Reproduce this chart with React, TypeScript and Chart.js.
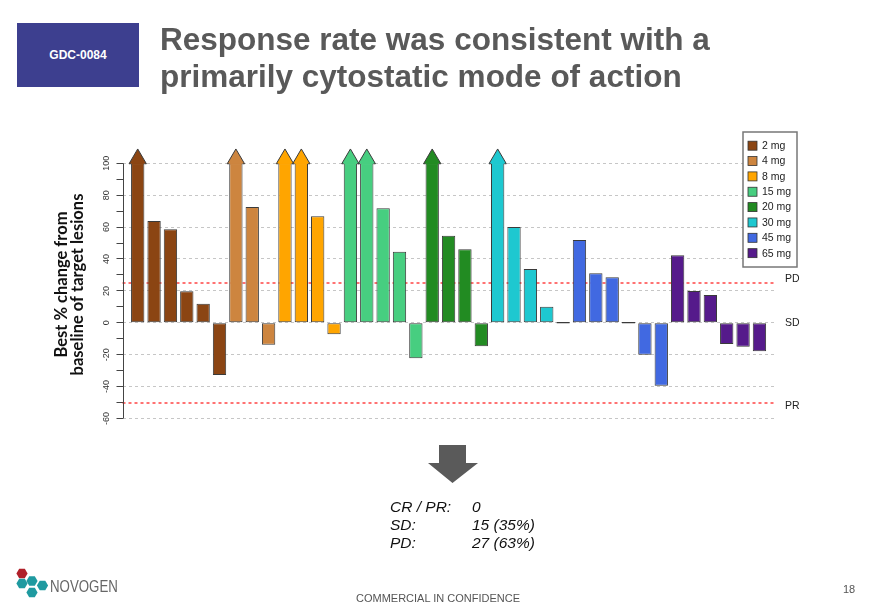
import React, { useEffect, useRef } from 'react';
import { Chart, registerables } from 'chart.js';

Chart.register(...registerables);

// ---------- data ----------
const doseLabels = ['2 mg', '4 mg', '8 mg', '15 mg', '20 mg', '30 mg', '45 mg', '65 mg'];
const doseColors = ['#8B4513', '#CD853F', '#FFA500', '#47CE80', '#228B22', '#1EC8D0', '#4169E1', '#551A8B'];

// dose group (index into doseLabels) of each patient, in plotted order
const patientDose = [
  0, 0, 0, 0, 0, 0,
  1, 1, 1,
  2, 2, 2, 2,
  3, 3, 3, 3, 3,
  4, 4, 4, 4,
  5, 5, 5, 5, 5,
  6, 6, 6, 6, 6, 6,
  7, 7, 7, 7, 7, 7,
];

// best % change from baseline (capped at 100 where the bar carries an arrow)
const bestChange = [
  100, 63.8, 58.6, 19.7, 12, -32.7,
  100, 72.6, -13.7,
  100, 100, 66.8, -7.2,
  100, 100, 71.8, 44.6, -22.3,
  100, 54.6, 46.1, -14.7,
  100, 60, 33.7, 10.1, 0,
  51.9, 31, 28.5, 0, -20, -39.4,
  42.3, 19.9, 17.4, -13.3, -15, -17.9,
];

// true where the change exceeds 100% (drawn as an arrow)
const beyond100 = [
  true, false, false, false, false, false,
  true, false, false,
  true, true, false, false,
  true, true, false, false, false,
  true, false, false, false,
  true, false, false, false, false,
  false, false, false, false, false, false,
  false, false, false, false, false, false,
];

const thresholdValues = [25, -50];
const zoneLabels = ['PD', 'SD', 'PR'];
const zoneLabelValues = [27.5, 0, -52];
const yAxisTitle = ['Best % change from', 'baseline of target lesions'];
const yRange = { min: -62, max: 110, axisMin: -60, axisMax: 100, labelStep: 20, tickStep: 10 };

const statLabels = ['CR / PR:', 'SD:', 'PD:'];
const statValues = ['0', '15 (35%)', '27 (63%)'];

const FONT = "'Liberation Sans', Arial, Helvetica, sans-serif";

const extrasPlugin = {
  id: 'waterfallExtras',
  beforeDatasetsDraw(chart: any) {
    const { ctx, chartArea, scales } = chart;
    const y = scales.y;
    ctx.save();
    ctx.globalAlpha = 1;
    ctx.strokeStyle = 'rgb(255, 0, 0)';
    ctx.lineWidth = 1.1;
    ctx.setLineDash([3, 3]);
    thresholdValues.forEach((v) => {
      const py = Math.round(y.getPixelForValue(v));
      ctx.beginPath();
      ctx.moveTo(chartArea.left, py);
      ctx.lineTo(chartArea.right, py);
      ctx.stroke();
    });
    ctx.restore();
  },
  afterDatasetsDraw(chart: any) {
    const { ctx, chartArea, scales } = chart;
    const y = scales.y;
    const meta = chart.getDatasetMeta(0);

    // arrow heads for > 100%
    ctx.save();
    ctx.strokeStyle = '#3a3a3a';
    ctx.lineWidth = 1;
    ctx.lineJoin = 'miter';
    meta.data.forEach((bar: any, i: number) => {
      if (!beyond100[i]) return;
      const p = bar.getProps(['x', 'y', 'width'], true);
      const l = p.x - p.width / 2;
      const r = p.x + p.width / 2;
      const head = 14.3;
      const wing = 2;
      ctx.fillStyle = doseColors[patientDose[i]];
      ctx.fillRect(l + 1, p.y - 1, p.width - 2, 2.6);
      ctx.beginPath();
      ctx.moveTo(l, p.y + 0.5);
      ctx.lineTo(l - wing, p.y + 0.5);
      ctx.lineTo(p.x, p.y - head);
      ctx.lineTo(r + wing, p.y + 0.5);
      ctx.lineTo(r, p.y + 0.5);
      ctx.fill();
      ctx.stroke();
    });
    ctx.restore();

    // y axis line (from -60 to 100 only)
    ctx.save();
    ctx.strokeStyle = '#444';
    ctx.lineWidth = 1;
    const ax = Math.round(chartArea.left) + 0.5;
    ctx.beginPath();
    ctx.moveTo(ax, y.getPixelForValue(yRange.axisMin));
    ctx.lineTo(ax, y.getPixelForValue(yRange.axisMax));
    ctx.stroke();
    ctx.restore();

    // zone labels
    ctx.save();
    ctx.font = `10.5px ${FONT}`;
    ctx.fillStyle = '#222';
    ctx.textAlign = 'left';
    ctx.textBaseline = 'middle';
    zoneLabels.forEach((t, i) => {
      ctx.fillText(t, chartArea.right + 11, y.getPixelForValue(zoneLabelValues[i]));
    });
    ctx.restore();

    // legend box
    ctx.save();
    const bx = chartArea.right - 31;
    const by = chartArea.top - 15.3;
    const bw = 54;
    const bh = 135;
    ctx.fillStyle = '#fff';
    ctx.fillRect(bx, by, bw, bh);
    ctx.strokeStyle = '#777';
    ctx.lineWidth = 1.5;
    ctx.strokeRect(bx, by, bw, bh);
    ctx.font = `10.5px ${FONT}`;
    ctx.textAlign = 'left';
    ctx.textBaseline = 'middle';
    doseLabels.forEach((lab, i) => {
      const cy = by + 13.7 + i * 15.35;
      ctx.fillStyle = doseColors[i];
      ctx.fillRect(bx + 5, cy - 4.5, 9, 9);
      ctx.strokeStyle = '#333';
      ctx.lineWidth = 0.8;
      ctx.strokeRect(bx + 5, cy - 4.5, 9, 9);
      ctx.fillStyle = '#222';
      ctx.fillText(lab, bx + 19, cy + 0.5);
    });
    ctx.restore();
  },
};

function hexPoints(cx: number, cy: number, r: number) {
  const pts: string[] = [];
  for (let k = 0; k < 6; k++) {
    const a = (Math.PI / 3) * k;
    pts.push(`${(cx + r * Math.cos(a)).toFixed(2)},${(cy + r * Math.sin(a)).toFixed(2)}`);
  }
  return pts.join(' ');
}

export default function App() {
  const canvasRef = useRef<HTMLCanvasElement | null>(null);

  useEffect(() => {
    if (!canvasRef.current) return;
    Chart.defaults.font.family = FONT;
    const points = bestChange.map((v, i) => ({ x: i, y: v }));
    const chart = new Chart(canvasRef.current, {
      type: 'bar',
      data: {
        datasets: [
          {
            data: points as any,
            backgroundColor: patientDose.map((d) => doseColors[d]),
            borderColor: '#3a3a3a',
            borderWidth: 1,
            borderSkipped: false,
            barPercentage: 0.815,
            categoryPercentage: 1,
            minBarLength: 1.5,
          } as any,
        ],
      },
      options: {
        responsive: false,
        animation: false,
        layout: { padding: { top: 147.3, bottom: 187.3, left: 0, right: 106 } },
        plugins: { legend: { display: false }, tooltip: { enabled: false }, title: { display: false } },
        scales: {
          x: { type: 'linear', display: false, min: -0.93, max: 38.89, offset: false } as any,
          y: {
            min: yRange.min,
            max: yRange.max,
            afterFit: (s: any) => {
              s.width = 122.5;
            },
            border: { display: false, dash: [3, 3] },
            grid: {
              lineWidth: 1,
              tickLength: 6,
              drawTicks: true,
              color: (c: any) => {
                const v = c.tick ? c.tick.value : NaN;
                return v % yRange.labelStep === 0 && v >= yRange.axisMin && v <= yRange.axisMax ? '#c6c6c6' : 'rgba(0,0,0,0)';
              },
              tickColor: (c: any) => {
                const v = c.tick ? c.tick.value : NaN;
                return v >= yRange.axisMin && v <= yRange.axisMax ? '#444' : 'rgba(0,0,0,0)';
              },
            } as any,
            ticks: {
              stepSize: yRange.tickStep,
              includeBounds: false,
              autoSkip: false,
              minRotation: 90,
              maxRotation: 90,
              crossAlign: 'center',
              padding: 2,
              color: '#333',
              font: { size: 9, family: FONT },
              callback: (v: any) =>
                v % yRange.labelStep === 0 && v >= yRange.axisMin && v <= yRange.axisMax ? String(v) : '',
            } as any,
            title: {
              display: true,
              text: yAxisTitle,
              color: '#111',
              font: { family: "Lato, 'Liberation Sans', sans-serif", size: 16.5, weight: 'bold', lineHeight: 0.97 },
              padding: { top: 54, bottom: 0 },
            },
          } as any,
        },
      },
      plugins: [extrasPlugin],
    });
    return () => chart.destroy();
  }, []);

  return (
    <div
      style={{
        position: 'absolute',
        left: 0,
        top: 0,
        width: 880,
        height: 609,
        background: '#fff',
        overflow: 'hidden',
        fontFamily: FONT,
      }}
    >
      <canvas ref={canvasRef} width={880} height={609} style={{ position: 'absolute', left: 0, top: 0, width: 880, height: 609 }} />

      {/* header */}
      <div
        style={{
          position: 'absolute',
          left: 17,
          top: 23,
          width: 122,
          height: 64,
          background: '#3d3f8f',
          color: '#fff',
          fontWeight: 'bold',
          fontSize: 12,
          display: 'flex',
          alignItems: 'center',
          justifyContent: 'center',
        }}
      >
        GDC-0084
      </div>
      <div
        style={{
          position: 'absolute',
          left: 160,
          top: 20.6,
          fontSize: 31.5,
          lineHeight: '37px',
          fontWeight: 'bold',
          color: '#595959',
          whiteSpace: 'nowrap',
        }}
      >
        <div>Response rate was consistent with a</div>
        <div>primarily cytostatic mode of action</div>
      </div>

      {/* down arrow + logo */}
      <svg style={{ position: 'absolute', left: 0, top: 0 }} width={880} height={609}>
        <polygon points="439,445 466,445 466,463 478,463 452.5,483 428,463 439,463" fill="#5a5a5a" />
        <polygon points={hexPoints(22, 573.5, 5.6)} fill="#b0202a" />
        <polygon points={hexPoints(22, 583.5, 5.6)} fill="#1f9aa0" />
        <polygon points={hexPoints(32, 581, 5.6)} fill="#1f9aa0" />
        <polygon points={hexPoints(42.5, 585.5, 5.6)} fill="#1f9aa0" />
        <polygon points={hexPoints(32, 592.5, 5.6)} fill="#1f9aa0" />
      </svg>

      {/* stats */}
      <div
        style={{
          position: 'absolute',
          left: 390,
          top: 498,
          fontSize: 15.5,
          lineHeight: '18px',
          fontStyle: 'italic',
          color: '#111',
          whiteSpace: 'nowrap',
        }}
      >
        {statLabels.map((l, i) => (
          <div key={l} style={{ position: 'relative', height: 18 }}>
            <span style={{ position: 'absolute', left: 0 }}>{l}</span>
            <span style={{ position: 'absolute', left: 82 }}>{statValues[i]}</span>
          </div>
        ))}
      </div>

      {/* footer */}
      <div
        style={{
          position: 'absolute',
          left: 50,
          top: 577,
          fontSize: 16,
          lineHeight: '20px',
          color: '#666',
          transform: 'scaleX(0.83)',
          transformOrigin: 'left center',
        }}
      >
        NOVOGEN
      </div>
      <div style={{ position: 'absolute', left: 356, top: 591, fontSize: 11, lineHeight: '14px', color: '#555', whiteSpace: 'nowrap' }}>
        COMMERCIAL IN CONFIDENCE
      </div>
      <div style={{ position: 'absolute', left: 843, top: 582, fontSize: 11, lineHeight: '14px', color: '#555' }}>18</div>
    </div>
  );
}
